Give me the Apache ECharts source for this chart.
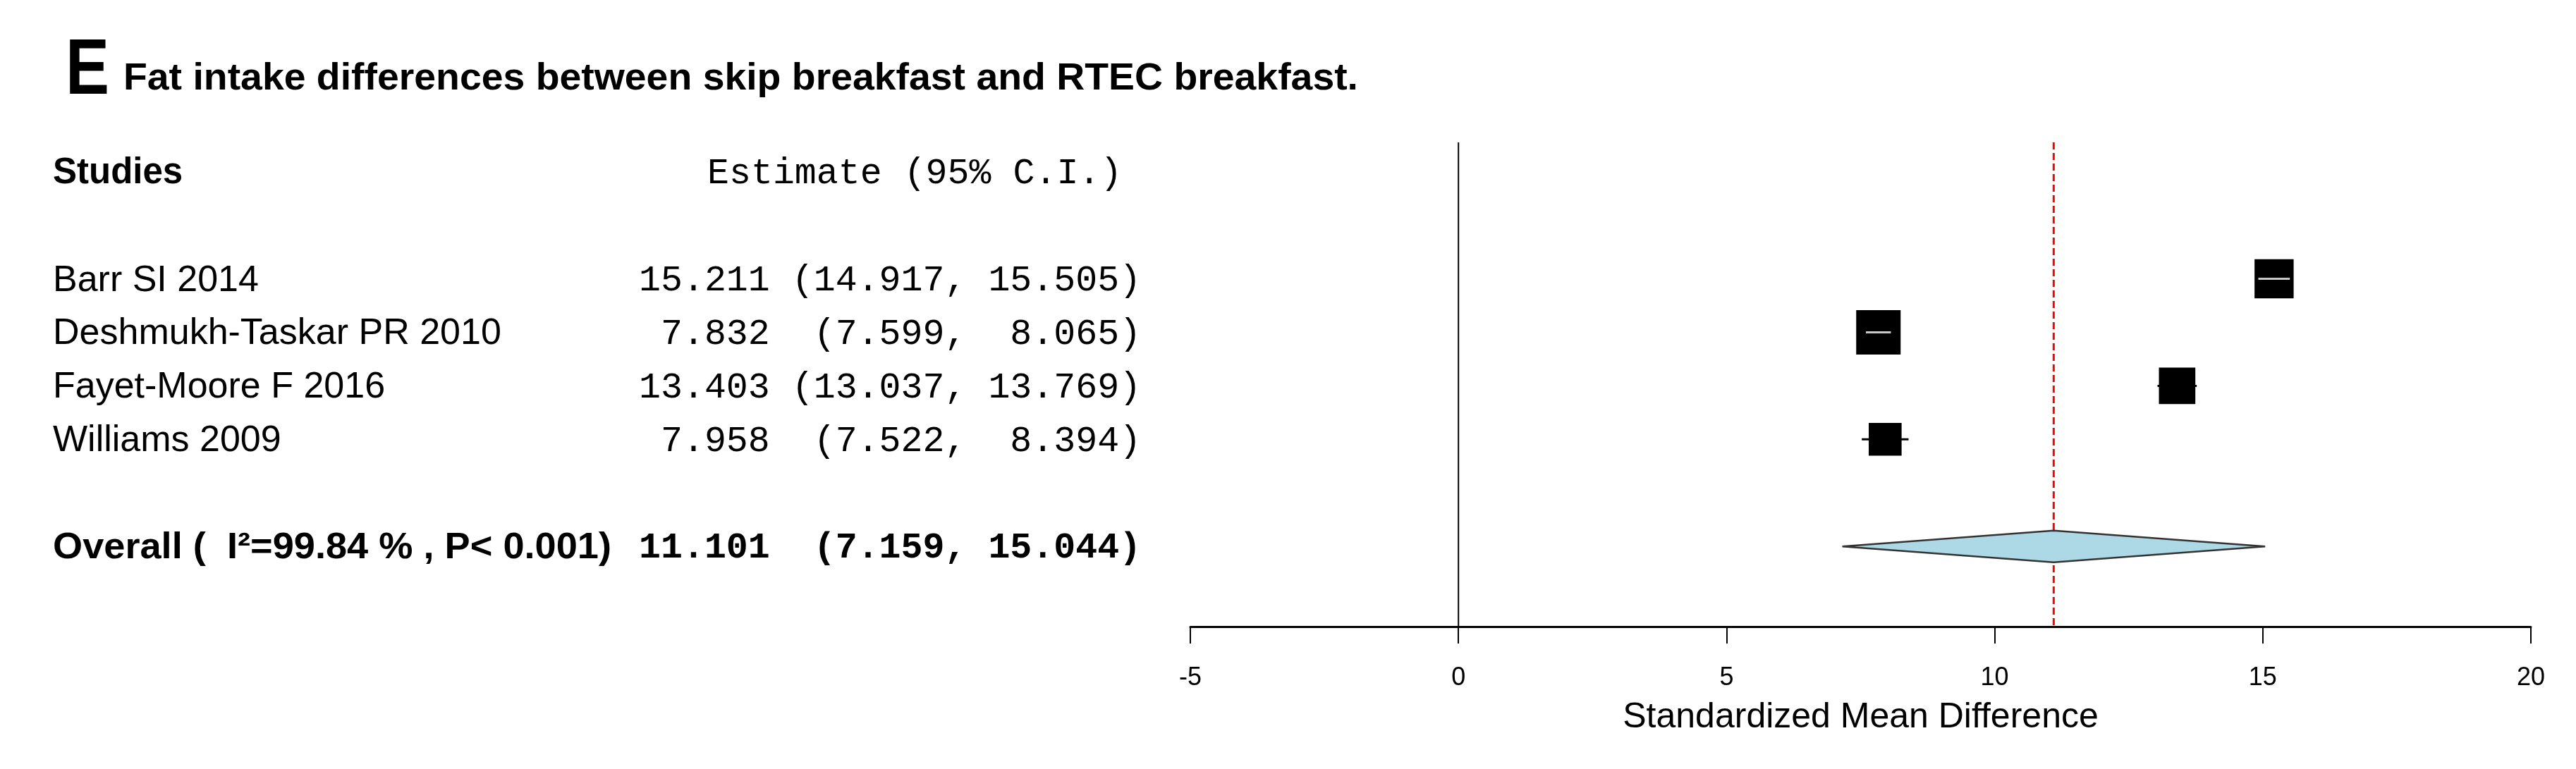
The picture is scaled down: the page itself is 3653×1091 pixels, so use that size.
<!DOCTYPE html>
<html>
<head>
<meta charset="utf-8">
<script src="https://cdn.jsdelivr.net/npm/echarts@6/dist/echarts.min.js"></script>
<style>
html,body{margin:0;padding:0;background:#ffffff;}
#c{width:3653px;height:1091px;}
</style>
</head>
<body>
<div id="c"></div>
<script>
// ---------------- data ----------------
const panelLetter = 'E';
const titleText = 'Fat intake differences between skip breakfast and RTEC breakfast.';
const headerStudies = 'Studies';
const headerEstimate = 'Estimate (95% C.I.)';
const studies = ['Barr SI 2014', 'Deshmukh-Taskar PR 2010', 'Fayet-Moore F 2016', 'Williams 2009'];
const estimates = [15.211, 7.832, 13.403, 7.958];
const lowerCI = [14.917, 7.599, 13.037, 7.522];
const upperCI = [15.505, 8.065, 13.769, 8.394];
const boxWeights = [0.88, 1.0, 0.82, 0.74];      // relative box size
const overallEstimate = [11.101];
const overallLower = [7.159];
const overallUpper = [15.044];
const heterogeneityI2 = '99.84';
const heterogeneityP = '< 0.001';
const xTicks = [-5, 0, 5, 10, 15, 20];
const xAxisName = 'Standardized Mean Difference';

// ---------------- styles / layout ----------------
const SANS = '"Liberation Sans", Arial, sans-serif';
const MONO = '"Liberation Mono", "Courier New", monospace';
const Y_MIN = -1.55, Y_MAX = 7.5;
const HEADER_ROW = -1;
const LABEL_X = 75;
const EST_X = 906;
const EST_HEADER_X = 1003;
const MAX_BOX = 63;
const DIAMOND_HALF = 22.5;
const V_SHIFT = 0.05;   // em shift so cap centres sit on the row centre

const mctx = document.createElement('canvas').getContext('2d');
function textWidth(t, font) { mctx.font = font; return mctx.measureText(t).width; }

function fmt(v) { return v.toFixed(3).padStart(6, ' '); }
function ciString(e, l, h) {
  return fmt(e) + ' ' + ('(' + l.toFixed(3) + ',').padStart(8, ' ') + ' ' + fmt(h) + ')';
}

// rows of text
const rowSpecs = [];
rowSpecs.push({ row: HEADER_ROW, left: headerStudies, leftBold: true, est: headerEstimate, estBold: false, estX: EST_HEADER_X, leftSize: 51, leftScale: 1 });
studies.forEach((s, i) => {
  rowSpecs.push({ row: i + 1, left: s, leftBold: false, est: ciString(estimates[i], lowerCI[i], upperCI[i]), estBold: false, estX: EST_X, leftSize: 52, leftScale: 1 });
});
const overallRow = studies.length + 2;
const overallLabel = 'Overall (  I\u00B2=' + heterogeneityI2 + ' % , P' + heterogeneityP + ')';
const overallScale = 792 / textWidth(overallLabel, 'bold 52px "Liberation Sans"');
rowSpecs.push({
  row: overallRow, left: overallLabel, leftBold: true,
  est: ciString(overallEstimate[0], overallLower[0], overallUpper[0]),
  estBold: true, estX: EST_X, leftSize: 52, leftScale: overallScale
});

// title scaling (Calibri-like narrow bold)
const titleFont = 'bold 54px "Liberation Sans"';
const titleScale = 1751 / textWidth(titleText, titleFont);

const chart = echarts.init(document.getElementById('c'), null, { renderer: 'canvas', width: 3653, height: 1091 });

const option = {
  backgroundColor: '#ffffff',
  animation: false,
  graphic: [
    { type: 'text', x: 93, y: 97 + V_SHIFT * 112, scaleX: 0.83, silent: true,
      style: { text: panelLetter, fontFamily: SANS, fontWeight: 'bold', fontSize: 112, fill: '#000', align: 'left', verticalAlign: 'middle' } },
    { type: 'text', x: 175, y: 109 + V_SHIFT * 54, scaleX: titleScale, silent: true,
      style: { text: titleText, fontFamily: SANS, fontWeight: 'bold', fontSize: 54, fill: '#000', align: 'left', verticalAlign: 'middle' } }
  ],
  grid: { left: 1688, right: 64, top: 202, bottom: 202, containLabel: false },
  xAxis: {
    type: 'value',
    min: xTicks[0], max: xTicks[xTicks.length - 1], interval: xTicks[1] - xTicks[0],
    axisLine: { show: true, onZero: false, lineStyle: { color: '#000', width: 3 } },
    axisTick: { show: true, inside: false, length: 24, lineStyle: { color: '#000', width: 2 } },
    axisLabel: { show: true, color: '#000', fontFamily: SANS, fontSize: 36, margin: 55 },
    splitLine: { show: false },
    name: xAxisName, nameLocation: 'middle', nameGap: 104,
    nameTextStyle: { color: '#000', fontFamily: SANS, fontSize: 50 }
  },
  yAxis: {
    type: 'value', min: Y_MIN, max: Y_MAX, inverse: true, show: false,
    axisLine: { show: false }, splitLine: { show: false }
  },
  series: [
    {
      // reference lines: zero line and summary (dashed red)
      type: 'custom', name: 'refLines', silent: true, clip: false, z: 1,
      data: [[0, 0], [overallEstimate[0], 1]],
      encode: { x: 0 },
      renderItem: function (params, api) {
        const x = api.value(0);
        const p1 = api.coord([x, Y_MIN]);
        const p2 = api.coord([x, Y_MAX]);
        const isSummary = params.dataIndex === 1;
        return {
          type: 'line', z2: 0,
          shape: { x1: p1[0], y1: p1[1], x2: p2[0], y2: p2[1] },
          style: isSummary
            ? { stroke: '#ff0000', lineWidth: 3, lineDash: [10, 5] }
            : { stroke: '#000', lineWidth: 2 }
        };
      }
    },
    {
      // study boxes and confidence intervals
      type: 'custom', name: 'studies', silent: true, clip: false, z: 3,
      data: studies.map((s, i) => [estimates[i], lowerCI[i], upperCI[i], i + 1, boxWeights[i]]),
      encode: { x: [0, 1, 2], y: 3 },
      renderItem: function (params, api) {
        const row = api.value(3);
        const c = api.coord([api.value(0), row]);
        const l = api.coord([api.value(1), row]);
        const h = api.coord([api.value(2), row]);
        const s = MAX_BOX * api.value(4);
        const inside = l[0] >= c[0] - s / 2 && h[0] <= c[0] + s / 2;
        const kids = [
          { type: 'line', shape: { x1: l[0], y1: c[1], x2: h[0], y2: c[1] }, style: { stroke: '#000', lineWidth: 3 } },
          { type: 'rect', shape: { x: c[0] - s / 2, y: c[1] - s / 2, width: s, height: s }, style: { fill: '#000' } }
        ];
        if (inside) {
          kids.push({ type: 'line', shape: { x1: l[0], y1: c[1], x2: h[0], y2: c[1] }, style: { stroke: '#c8c8c8', lineWidth: 3 } });
        }
        return { type: 'group', children: kids };
      }
    },
    {
      // summary diamond
      type: 'custom', name: 'overall', silent: true, clip: false, z: 4,
      data: [[overallEstimate[0], overallLower[0], overallUpper[0], overallRow]],
      encode: { x: [0, 1, 2], y: 3 },
      renderItem: function (params, api) {
        const row = api.value(3);
        const c = api.coord([api.value(0), row]);
        const l = api.coord([api.value(1), row]);
        const h = api.coord([api.value(2), row]);
        return {
          type: 'polygon', z2: 10,
          shape: { points: [[l[0], c[1]], [c[0], c[1] - DIAMOND_HALF], [h[0], c[1]], [c[0], c[1] + DIAMOND_HALF]] },
          style: { fill: '#add8e6', stroke: '#333333', lineWidth: 2.5 }
        };
      }
    },
    {
      // text columns
      type: 'custom', name: 'labels', silent: true, clip: false, z: 5,
      data: rowSpecs.map(r => [0, r.row]),
      encode: { y: 1 },
      renderItem: function (params, api) {
        const r = rowSpecs[params.dataIndex];
        const y = api.coord([0, api.value(1)])[1];
        return {
          type: 'group',
          children: [
            { type: 'text', x: LABEL_X, y: y + V_SHIFT * r.leftSize, scaleX: r.leftScale,
              style: { text: r.left, fontFamily: SANS, fontSize: r.leftSize, fontWeight: r.leftBold ? 'bold' : 'normal', fill: '#000', align: 'left', verticalAlign: 'middle' } },
            { type: 'text', x: r.estX, y: y + V_SHIFT * 51.6,
              style: { text: r.est, fontFamily: MONO, fontSize: 51.6, fontWeight: r.estBold ? 'bold' : 'normal', fill: '#000', align: 'left', verticalAlign: 'middle' } }
          ]
        };
      }
    }
  ]
};
chart.setOption(option);
</script>
</body>
</html>
